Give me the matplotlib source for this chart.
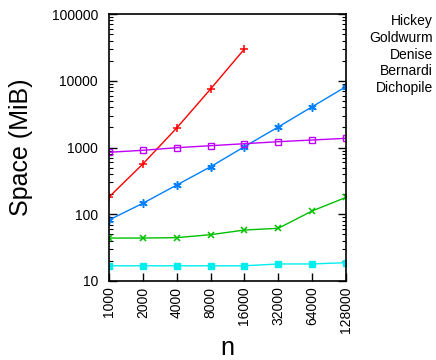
import numpy as np
import matplotlib
matplotlib.use('Agg')
import matplotlib.pyplot as plt
from matplotlib.ticker import LogLocator, NullFormatter, FixedLocator

plt.rcParams['font.family'] = ['Liberation Sans', 'DejaVu Sans']

n = [1000, 2000, 4000, 8000, 16000, 32000, 64000, 128000]
n_labels = ['1000', '2000', '4000', '8000', '16000', '32000', '64000', '128000']

hickey = [181, 566, 1960, 7520, 29900]
goldwurm = [44, 44, 44.6, 49.4, 58, 61.6, 112, 179]
denise = [82, 146, 274, 515, 1030, 2030, 4080, 8150]
bernardi = [848, 908, 993, 1064, 1140, 1222, 1295, 1373]
dichopile = [16.9, 16.9, 16.9, 16.9, 16.9, 18.0, 18.0, 18.8]

names = ['Hickey', 'Goldwurm', 'Denise', 'Bernardi', 'Dichopile']

fig = plt.figure(figsize=(4.36, 3.6), dpi=100)
ax = fig.add_axes([109 / 436, 1 - 281 / 360, 237 / 436, 267 / 360])

ax.plot(n[:len(hickey)], hickey, color='#ff0000', marker='+', ms=6, mew=1.1, lw=1.0)
ax.plot(n, goldwurm, color='#00c000', marker='x', ms=5, mew=1.1, lw=1.0)
ax.plot(n, denise, color='#0080ff', marker=(6, 2, 0), ms=6, mew=1.1, lw=1.0)
ax.plot(n, bernardi, color='#c000ff', marker='s', ms=4.5, mfc='none', mew=1.0, lw=1.0)
ax.plot(n, dichopile, color='#00eeee', marker='s', ms=4.5, lw=1.0)

ax.set_xscale('log', base=2)
ax.set_yscale('log')
ax.set_xlim(1000, 128000)
ax.set_ylim(10, 100000)

ax.set_xticks(n)
ax.set_xticklabels(n_labels, rotation=90, fontsize=10)
ax.xaxis.set_minor_locator(FixedLocator([]))
ax.yaxis.set_minor_locator(LogLocator(base=10, subs=np.arange(2, 10), numticks=10))
ax.yaxis.set_minor_formatter(NullFormatter())
ax.set_yticks([10, 100, 1000, 10000, 100000])
ax.set_yticklabels(['10', '100', '1000', '10000', '100000'], fontsize=10)

ax.tick_params(axis='y', which='both', direction='in', right=True, left=True)
ax.tick_params(axis='y', which='major', length=6, width=1, pad=8)
ax.tick_params(axis='y', which='minor', length=3, width=0.8)
ax.tick_params(axis='x', which='major', direction='in', length=6, width=1, top=False, pad=4)

for s in ax.spines.values():
    s.set_linewidth(1.2)

ax.set_ylabel('Space (MiB)', fontsize=18, labelpad=13)
ax.set_xlabel('n', fontsize=18, labelpad=2)

for i, name in enumerate(names):
    fig.text(433 / 436, 1 - (21 + i * 16.8) / 360, name, ha='right', va='center', fontsize=10)

fig.savefig('out.png', dpi=100)
